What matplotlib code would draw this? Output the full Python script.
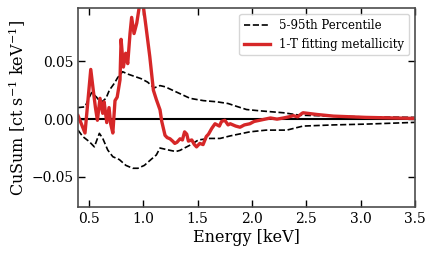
import matplotlib

matplotlib.use("Agg")
import matplotlib.pyplot as plt

# energy grid [keV] and cumulative sums
fit_energy = [0.40, 0.43, 0.464, 0.49, 0.517, 0.54, 0.56, 0.578, 0.602, 0.627,
              0.64, 0.664, 0.685, 0.70, 0.72, 0.74, 0.76, 0.786, 0.796, 0.817,
              0.838, 0.857, 0.878, 0.893, 0.915, 0.94, 0.963, 1.00, 1.025, 1.06,
              1.093, 1.12, 1.154, 1.17, 1.20, 1.22, 1.246, 1.27, 1.29, 1.31,
              1.338, 1.36, 1.38, 1.40, 1.415, 1.446, 1.47, 1.49, 1.52, 1.55,
              1.58, 1.60, 1.63, 1.66, 1.70, 1.72, 1.75, 1.78, 1.80, 1.85,
              1.89, 1.93, 1.98, 2.02, 2.07, 2.12, 2.17, 2.23, 2.29, 2.34,
              2.38, 2.42, 2.46, 2.47, 2.60, 2.75, 3.05, 3.50]
fit_cusum = [0.003, -0.004, -0.012, 0.015, 0.043, 0.025, 0.010, -0.001, 0.018, 0.005,
             0.015, -0.003, 0.010, -0.004, -0.012, 0.016, 0.019, 0.034, 0.069, 0.045,
             0.057, 0.048, 0.074, 0.088, 0.074, 0.083, 0.097, 0.098, 0.080, 0.054,
             0.025, 0.017, 0.008, -0.002, -0.014, -0.016, -0.017, -0.019, -0.021, -0.020,
             -0.017, -0.018, -0.011, -0.013, -0.019, -0.018, -0.022, -0.024, -0.021, -0.022,
             -0.015, -0.013, -0.008, -0.004, -0.006, -0.002, -0.001, -0.005, -0.004, -0.006,
             -0.007, -0.005, -0.004, -0.002, -0.001, 0.000, 0.001, 0.000, 0.001, 0.002,
             0.003, 0.002, 0.005, 0.0055, 0.004, 0.0026, 0.0015, 0.0006]

hi_energy = [0.40, 0.464, 0.504, 0.525, 0.57, 0.596, 0.62, 0.657, 0.688, 0.734,
             0.765, 0.81, 0.857, 0.918, 0.98, 1.04, 1.10, 1.154, 1.20, 1.246,
             1.338, 1.43, 1.49, 1.553, 1.675, 1.78, 1.86, 1.95, 2.07, 2.29,
             2.44, 2.60, 3.00, 3.50]
hi_cusum = [0.010, 0.0106, 0.019, 0.023, 0.019, 0.016, 0.015, 0.018, 0.025, 0.031,
            0.036, 0.041, 0.039, 0.037, 0.035, 0.032, 0.027, 0.029, 0.028, 0.026,
            0.022, 0.018, 0.017, 0.016, 0.015, 0.0135, 0.011, 0.0083, 0.0072, 0.0055,
            0.0034, 0.003, 0.002, 0.0015]

lo_energy = [0.40, 0.443, 0.504, 0.55, 0.596, 0.627, 0.673, 0.72, 0.78, 0.84,
             0.903, 0.95, 1.01, 1.07, 1.12, 1.154, 1.20, 1.246, 1.30, 1.338,
             1.43, 1.507, 1.61, 1.706, 1.80, 1.98, 2.13, 2.32, 2.47, 2.75,
             3.05, 3.50]
lo_cusum = [-0.0095, -0.015, -0.0195, -0.024, -0.0123, -0.0166, -0.0267, -0.0325, -0.035, -0.040,
            -0.0425, -0.0425, -0.040, -0.035, -0.031, -0.025, -0.026, -0.027, -0.028, -0.027,
            -0.0225, -0.018, -0.0167, -0.0167, -0.0145, -0.011, -0.0095, -0.0095, -0.006, -0.005,
            -0.0043, -0.0028]

plt.rcParams["font.family"] = ["DejaVu Serif"]
plt.rcParams["mathtext.fontset"] = "dejavuserif"

fig = plt.figure(figsize=(4.36, 2.54), dpi=100)
ax = fig.add_axes([0.179, 0.185, 0.773, 0.783])

ax.plot(hi_energy, hi_cusum, "k--", lw=1.2, label="5-95th Percentile")
ax.plot(lo_energy, lo_cusum, "k--", lw=1.2)
ax.axhline(0, color="k", lw=1.5)
ax.plot(fit_energy, fit_cusum, color="#d62728", lw=2.4, label="1-T fitting metallicity")

ax.set_xlim(0.4, 3.5)
ax.set_ylim(-0.076, 0.096)
ax.set_xticks([0.5, 1.0, 1.5, 2.0, 2.5, 3.0, 3.5])
ax.set_yticks([-0.05, 0.0, 0.05])
ax.tick_params(direction="in", top=True, right=True, length=5, width=1, labelsize=10)
for sp in ax.spines.values():
    sp.set_color("0.3")
    sp.set_linewidth(1.2)

ax.set_xlabel("Energy [keV]", fontsize=11.5, labelpad=2)
ax.set_ylabel(r"CuSum [ct s$^{-1}$ keV$^{-1}$]", fontsize=11.5, labelpad=2)
ax.legend(loc="upper right", fontsize=8.5, frameon=True, handlelength=2.2)

fig.savefig("out.png", dpi=100)
